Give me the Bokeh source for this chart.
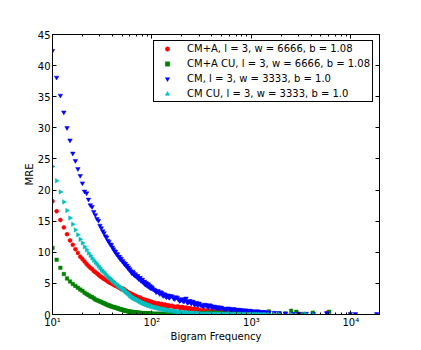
from bokeh.plotting import figure
from bokeh.models import Range1d, FixedTicker, LogAxis, LinearAxis, Legend, LegendItem
from bokeh.embed import file_html
from bokeh.resources import INLINE

# Bigram frequency (x) shared by the dense part of all series
freq = [
    10, 11, 12, 13, 14, 15, 16, 17, 18, 19,
    20, 21, 22, 23, 24, 25, 26, 27, 28, 29,
    30, 31, 32, 33, 34, 35, 36, 37, 38, 39,
    40, 41, 42, 43, 44, 45, 46, 47, 48, 49,
    50, 51, 52, 53, 54, 55, 56, 57, 58, 59,
    60, 62, 64, 66, 68, 70, 72, 74, 76, 78,
    80, 82, 84, 86, 88, 90, 92, 94, 96, 98,
    100, 105, 110, 115, 120, 125, 130, 135, 140, 145,
    150, 160, 170, 180, 190, 200, 210, 220, 230, 240,
    250, 260, 270, 280, 290, 300, 320, 340, 360, 380,
    400, 420, 440, 460, 480, 500, 540, 580, 620, 660,
    700, 750, 800, 850, 900, 950, 1000, 1100, 1200, 1300,
    1400, 1500, 1700, 1900,
]
# further frequencies in between (the band above 60 is dense)
freq2 = [
    61, 63, 65, 67, 69, 71, 73, 75, 77, 79,
    81, 83, 85, 87, 89, 91, 93, 95, 97, 99,
    102, 107, 112, 117, 122, 127, 132, 137, 142, 147,
    155, 165, 175, 185, 195, 205, 215, 225, 235, 245,
    255, 265, 275, 285, 295, 310, 330, 350, 370, 390,
    410, 430, 450, 470, 490, 520, 560, 600, 640, 680,
    725, 775, 825, 875, 925, 975, 1050, 1150, 1250, 1350,
]

mre_cma = [
    18.2, 16.6, 15.2, 14.0, 12.9, 11.9, 11.2, 10.5, 9.9, 9.3,
    8.9, 8.5, 8.1, 7.8, 7.5, 7.3, 7.0, 6.8, 6.6, 6.4,
    6.2, 6.0, 5.9, 5.7, 5.6, 5.5, 5.3, 5.2, 5.1, 5.0,
    5.0, 4.8, 4.8, 4.6, 4.6, 4.5, 4.4, 4.3, 4.3, 4.1,
    4.2, 4.0, 4.1, 3.9, 3.8, 3.8, 3.6, 3.6, 3.5, 3.4,
    3.4, 3.3, 3.2, 3.0, 3.0, 2.8, 2.8, 2.6, 2.7, 2.5,
    2.4, 2.3, 2.4, 2.2, 2.3, 2.1, 2.2, 2.0, 2.1, 1.9,
    2.0, 1.9, 1.7, 1.8, 1.6, 1.7, 1.5, 1.6, 1.4, 1.5,
    1.3, 1.4, 1.2, 1.3, 1.1, 1.2, 1.0, 1.1, 0.9, 1.0,
    0.8, 0.9, 0.8, 0.7, 0.8, 0.7, 0.6, 0.65, 0.55, 0.6,
    0.5, 0.5, 0.45, 0.45, 0.4, 0.4, 0.35, 0.35, 0.3, 0.3,
    0.25, 0.25, 0.2, 0.2, 0.2, 0.15, 0.15, 0.15, 0.1, 0.1,
    0.1, 0.1, 0.1, 0.05,
]
mre_cma_2 = [
    3.3, 3.2, 3.1, 2.9, 2.9, 2.8, 2.7, 2.7, 2.6, 2.4,
    2.4, 2.3, 2.2, 2.3, 2.1, 2.0, 2.1, 2.0, 1.9, 2.0,
    1.8, 1.8, 1.6, 1.7, 1.5, 1.6, 1.4, 1.5, 1.3, 1.4,
    1.35, 1.25, 1.15, 1.25, 1.05, 1.15, 0.95, 1.05, 0.85, 0.95,
    0.85, 0.75, 0.85, 0.7, 0.75, 0.65, 0.6, 0.6, 0.55, 0.55,
    0.5, 0.45, 0.5, 0.4, 0.45, 0.4, 0.35, 0.3, 0.3, 0.25,
    0.25, 0.2, 0.2, 0.2, 0.15, 0.15, 0.15, 0.1, 0.1, 0.1,
]

mre_cma_cu = [
    10.7, 8.8, 7.5, 6.5, 5.8, 5.3, 4.9, 4.6, 4.3, 4.0,
    3.8, 3.5, 3.3, 3.1, 2.9, 2.8, 2.6, 2.4, 2.3, 2.2,
    2.1, 2.0, 1.9, 1.8, 1.7, 1.6, 1.5, 1.45, 1.4, 1.3,
    1.25, 1.2, 1.15, 1.1, 1.05, 1.0, 0.95, 0.9, 0.85, 0.8,
    0.78, 0.74, 0.7, 0.66, 0.62, 0.6, 0.56, 0.53, 0.5, 0.48,
    0.45, 0.42, 0.39, 0.36, 0.33, 0.3, 0.28, 0.26, 0.24, 0.22,
    0.2, 0.19, 0.18, 0.17, 0.16, 0.15, 0.14, 0.13, 0.12, 0.12,
    0.11, 0.1, 0.1, 0.09, 0.09, 0.08, 0.08, 0.07, 0.07, 0.07,
    0.06, 0.06, 0.05, 0.05, 0.05, 0.04, 0.04, 0.04, 0.04, 0.03,
    0.03, 0.03, 0.03, 0.03, 0.02, 0.02, 0.25, 0.05, 0.3, 0.05,
    0.2, 0.04, 0.35, 0.04, 0.2, 0.03, 0.3, 0.03, 0.2, 0.03,
    0.25, 0.03, 0.2, 0.02, 0.3, 0.02, 0.15, 0.02, 0.2, 0.02,
    0.3, 0.5, 0.02, 0.2,
]
mre_cma_cu_2 = [
    0.44, 0.41, 0.37, 0.35, 0.31, 0.29, 0.27, 0.25, 0.23, 0.21,
    0.2, 0.19, 0.17, 0.16, 0.15, 0.14, 0.13, 0.13, 0.12, 0.11,
    0.1, 0.1, 0.09, 0.09, 0.08, 0.08, 0.07, 0.07, 0.07, 0.06,
    0.06, 0.05, 0.05, 0.05, 0.04, 0.04, 0.2, 0.04, 0.03, 0.25,
    0.03, 0.03, 0.3, 0.02, 0.02, 0.02, 0.2, 0.02, 0.02, 0.3,
    0.02, 0.25, 0.02, 0.02, 0.3, 0.02, 0.02, 0.2, 0.02, 0.02,
    0.2, 0.02, 0.02, 0.3, 0.02, 0.02, 0.25, 0.02, 0.02, 0.2,
]

mre_cm = [
    42.4, 38.1, 35.2, 32.5, 30.0, 28.0, 25.9, 24.7, 23.4, 22.3,
    21.1, 19.8, 19.5, 18.5, 17.6, 17.3, 16.5, 16.0, 15.4, 15.1,
    14.3, 13.9, 13.4, 13.1, 12.6, 12.4, 11.9, 11.7, 11.3, 11.2,
    10.8, 10.5, 10.2, 10.1, 9.7, 9.7, 9.3, 9.3, 8.9, 9.0,
    8.6, 8.6, 8.3, 8.1, 8.2, 7.8, 7.9, 7.5, 7.6, 7.2,
    7.3, 6.8, 6.9, 6.4, 6.5, 6.1, 6.2, 5.7, 5.9, 5.4,
    5.6, 5.1, 5.3, 4.8, 5.0, 4.6, 4.8, 4.4, 4.5, 4.2,
    4.3, 4.0, 3.6, 3.8, 3.3, 3.5, 3.0, 3.2, 2.8, 3.1,
    2.7, 2.9, 2.5, 2.7, 2.2, 2.5, 2.1, 2.6, 1.9, 2.2,
    1.8, 2.0, 1.6, 1.9, 1.5, 1.7, 1.4, 1.6, 1.3, 1.5,
    1.2, 1.3, 1.1, 1.2, 1.0, 1.1, 0.9, 1.0, 0.8, 0.9,
    0.75, 0.8, 0.65, 0.7, 0.6, 0.65, 0.55, 0.5, 0.45, 0.4,
    0.35, 0.35, 0.3, 0.25,
]
mre_cm_2 = [
    7.0, 6.6, 6.7, 6.3, 6.2, 6.0, 5.8, 5.9, 5.5, 5.6,
    5.3, 5.2, 4.9, 5.1, 4.7, 4.9, 4.5, 4.6, 4.3, 4.4,
    4.1, 3.9, 3.7, 3.5, 3.6, 3.2, 3.3, 2.9, 3.0, 2.8,
    3.0, 2.6, 2.8, 2.4, 2.3, 2.2, 2.4, 2.0, 2.1, 1.9,
    2.1, 1.7, 1.8, 1.6, 1.8, 1.5, 1.3, 1.5, 1.2, 1.4,
    1.1, 1.25, 1.0, 1.05, 1.15, 0.95, 0.85, 0.95, 0.75, 0.85,
    0.7, 0.75, 0.6, 0.65, 0.55, 0.6, 0.5, 0.55, 0.4, 0.45,
]

mre_cm_cu = [
    23.8, 21.5, 19.7, 18.1, 16.7, 15.5, 14.5, 13.6, 12.8, 12.1,
    11.5, 10.9, 10.4, 9.9, 9.5, 9.1, 8.7, 8.4, 8.1, 7.8,
    7.5, 7.2, 7.0, 6.8, 6.5, 6.3, 6.1, 5.9, 5.8, 5.6,
    5.4, 5.3, 5.1, 5.0, 4.9, 4.7, 4.6, 4.5, 4.4, 4.3,
    4.2, 4.1, 4.0, 3.8, 3.7, 3.6, 3.5, 3.4, 3.3, 3.2,
    3.0, 2.9, 2.7, 2.6, 2.5, 2.4, 2.3, 2.2, 2.05, 2.0,
    1.9, 1.8, 1.75, 1.7, 1.6, 1.55, 1.5, 1.45, 1.4, 1.35,
    1.3, 1.2, 1.1, 1.05, 0.95, 0.9, 0.85, 0.8, 0.75, 0.7,
    0.65, 0.6, 0.5, 0.45, 0.4, 0.35, 0.3, 0.3, 0.25, 0.25,
    0.2, 0.2, 0.18, 0.15, 0.15, 0.12, 0.1, 0.1, 0.08, 0.08,
    0.07, 0.06, 0.06, 0.05, 0.05, 0.05, 0.04, 0.04, 0.03, 0.03,
    0.03, 0.03, 0.02, 0.02, 0.02, 0.02, 0.02, 0.02, 0.01, 0.01,
    0.01, 0.01, 0.01, 0.01,
]
mre_cm_cu_2 = [
    2.95, 2.8, 2.65, 2.55, 2.45, 2.35, 2.25, 2.1, 2.0, 1.95,
    1.85, 1.78, 1.72, 1.65, 1.58, 1.52, 1.48, 1.42, 1.38, 1.32,
    1.25, 1.15, 1.08, 1.0, 0.92, 0.88, 0.82, 0.78, 0.72, 0.68,
    0.62, 0.55, 0.48, 0.42, 0.38, 0.32, 0.3, 0.28, 0.25, 0.22,
    0.2, 0.19, 0.16, 0.15, 0.13, 0.11, 0.1, 0.09, 0.08, 0.07,
    0.065, 0.06, 0.055, 0.05, 0.05, 0.045, 0.04, 0.035, 0.03, 0.03,
    0.03, 0.025, 0.02, 0.02, 0.02, 0.02, 0.02, 0.015, 0.01, 0.01,
]

# sparse high-frequency points
cma_sparse_f = [2500, 3000, 5800]
cma_sparse_v = [0.15, 0.1, 0.3]
cma_cu_sparse_f = [2200, 2510, 2830, 3300, 4140, 6060]
cma_cu_sparse_v = [0.15, 0.6, 0.43, 0.1, 0.3, 0.43]
cm_sparse_f = [2200, 2600, 3000, 3560, 4200, 5700, 9890, 11100, 18200]
cm_sparse_v = [0.2, 0.15, 0.15, 0.15, 0.1, 0.25, 0.1, 0.1, 0.1]
cm_cu_sparse_f = [2500, 3500, 4100]
cm_cu_sparse_v = [0.05, 0.05, 0.05]

labels = [
    "CM+A, l = 3, w = 6666, b = 1.08",
    "CM+A CU, l = 3, w = 6666, b = 1.08",
    "CM, l = 3, w = 3333, b = 1.0",
    "CM CU, l = 3, w = 3333, b = 1.0",
]
colors = ["#ff0000", "#008000", "#0000ff", "#00bfbf"]

x_ticks = [10, 100, 1000, 10000]
x_tick_labels = ["10\u00b9", "10\u00b2", "10\u00b3", "10\u2074"]
y_ticks = [0, 5, 10, 15, 20, 25, 30, 35, 40, 45]

FONT = "DejaVu Sans"

p = figure(x_axis_type="log", x_range=Range1d(10, 19400), y_range=Range1d(0, 45),
           width=419, height=348,
           min_border_left=52, min_border_top=34, min_border_right=40, min_border_bottom=34,
           output_backend="svg", toolbar_location=None)
p.xgrid.visible = False
p.ygrid.visible = False
p.outline_line_color = "black"
p.outline_line_width = 1
p.background_fill_color = "white"
p.border_fill_color = "white"

series = [
    (freq + freq2 + cma_sparse_f, mre_cma + mre_cma_2 + cma_sparse_v, "circle", 4.0, 0),
    (freq + freq2 + cma_cu_sparse_f, mre_cma_cu + mre_cma_cu_2 + cma_cu_sparse_v, "square", 3.5, 0),
    (freq + freq2 + cm_sparse_f, mre_cm + mre_cm_2 + cm_sparse_v, "inverted_triangle", 4.5, 0),
    (freq + freq2 + cm_cu_sparse_f, mre_cm_cu + mre_cm_cu_2 + cm_cu_sparse_v, "triangle", 4.5, -90),
]
items = []
for (xs, ys, marker, size, ang), col, lab in zip(series, colors, labels):
    r = p.scatter(x=xs, y=ys, marker=marker, size=size, angle=ang, angle_units="deg",
                  fill_color=col, line_color=col, line_width=0.5)
    items.append(LegendItem(label=lab, renderers=[r]))

minor = [m * d for d in [10, 100, 1000, 10000] for m in range(2, 10)]

def style_axis(ax, show_labels=True):
    ax.axis_line_color = "black"
    ax.major_tick_line_color = "black"
    ax.minor_tick_line_color = "black"
    ax.major_tick_in = 4
    ax.major_tick_out = 0
    ax.minor_tick_in = 2
    ax.minor_tick_out = 0
    ax.major_label_text_font = FONT
    ax.major_label_text_font_size = "10px"
    ax.major_label_text_color = "black" if show_labels else None
    ax.major_label_standoff = 2
    ax.axis_label_text_font = FONT
    ax.axis_label_text_font_size = "10px"
    ax.axis_label_text_font_style = "normal"
    ax.axis_label_text_color = "black"
    ax.axis_label_standoff = 0

xax = p.xaxis[0]
xax.ticker = FixedTicker(ticks=x_ticks, minor_ticks=minor)
xax.major_label_overrides = {float(k): v for k, v in zip(x_ticks, x_tick_labels)}
xax.axis_label = "Bigram Frequency"
style_axis(xax)

yax = p.yaxis[0]
yax.ticker = FixedTicker(ticks=y_ticks)
yax.axis_label = "MRE"
style_axis(yax)

top = LogAxis(ticker=FixedTicker(ticks=x_ticks, minor_ticks=minor))
style_axis(top, show_labels=False)
p.add_layout(top, "above")
right = LinearAxis(ticker=FixedTicker(ticks=y_ticks))
style_axis(right, show_labels=False)
p.add_layout(right, "right")

legend = Legend(items=items, location="top_right", margin=6, padding=2, spacing=4,
                label_height=11, glyph_height=11, glyph_width=22, label_standoff=9,
                label_text_font=FONT, label_text_font_size="10px", label_text_color="black",
                border_line_color="black", border_line_width=1, border_line_alpha=1.0,
                background_fill_color="white", background_fill_alpha=1.0)
p.add_layout(legend)

open("out.html", "w").write(file_html(p, INLINE))
